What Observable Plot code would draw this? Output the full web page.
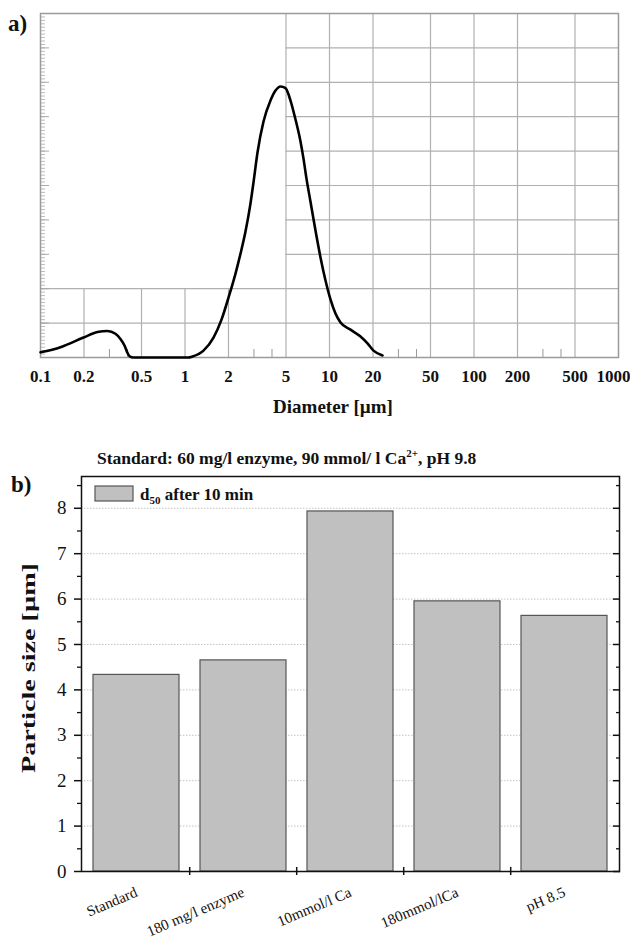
<!DOCTYPE html>
<html><head><meta charset="utf-8">
<script src="https://cdn.jsdelivr.net/npm/d3@7"></script>
<script src="https://cdn.jsdelivr.net/npm/@observablehq/plot@0.6"></script>
<style>
body{margin:0;background:#fff;}
#wrap{position:relative;width:630px;height:942px;overflow:hidden;}
#wrap svg{position:absolute;left:0;}
</style></head><body><div id="wrap"></div>
<script>
// ---------- Panel a: particle size distribution ----------
const diameter = [0.1, 0.1375, 0.1984, 0.248, 0.2907, 0.3301, 0.3574, 0.3812, 0.3983, 0.4146, 0.44, 1.05, 1.127, 1.343, 1.575, 1.789, 2.0, 2.236, 2.422, 2.622, 2.84, 2.979, 3.175, 3.494, 3.905, 4.229, 4.58, 4.961, 5.372, 5.818, 6.30, 6.607, 6.93, 7.388, 8.0, 8.664, 9.383, 10.16, 11.0, 11.92, 13.97, 16.39, 18.32, 20.16, 23.27];
const volume   = [0.15, 0.30, 0.58, 0.74, 0.77, 0.69, 0.54, 0.35, 0.15, 0.03, 0.0, 0.0, 0.03, 0.2, 0.58, 1.10, 1.74, 2.44, 3.02, 3.66, 4.48, 5.09, 5.96, 6.86, 7.47, 7.76, 7.88, 7.83, 7.47, 6.92, 6.28, 5.78, 5.2, 4.53, 3.69, 2.91, 2.24, 1.69, 1.28, 1.02, 0.81, 0.61, 0.41, 0.2, 0.06];
const diameterTicks = [0.1, 0.2, 0.5, 1, 2, 5, 10, 20, 50, 100, 200, 500];
const lastDiameterTick = [1000];
const minorDiameterTicks = [0.3, 0.4, 3, 4, 30, 40, 300, 400];
const lowGridDiameters = [0.2, 0.5, 1, 2];
const fullGridDiameters = [5, 10, 20, 50, 100, 200, 500];
const fullGridLevels = [1, 2];
const partialGridLevels = [3, 4, 5, 6, 7, 8, 9];
const gridStartDiameter = 5;
const majorLevels = [0, 1, 2, 3, 4, 5, 6, 7, 8, 9, 10];
const minorLevels = d3.range(0, 100).map(i => i / 10);

// ---------- Panel b: d50 bar chart ----------
const conditions = ["Standard", "180 mg/l enzyme", "10mmol/l Ca", "180mmol/lCa", "pH 8.5"];
const d50 = [4.33, 4.65, 7.93, 5.95, 5.63];
const sizeTicks = [0, 1, 2, 3, 4, 5, 6, 7, 8];
const sizeHalfTicks = [0.5, 1.5, 2.5, 3.5, 4.5, 5.5, 6.5, 7.5, 8.5];

const FONT = "'Liberation Serif', 'DejaVu Serif', serif";
const wrap = document.getElementById("wrap");

const curve = diameter.map((d, i) => ({d, v: volume[i]}));
const plotA = Plot.plot({
  width: 630, height: 420,
  marginLeft: 40, marginRight: 12, marginTop: 13, marginBottom: 63,
  style: {fontFamily: FONT, color: "#111", background: "transparent"},
  x: {type: "log", domain: [0.1, 1000], axis: null},
  y: {domain: [0, 10], axis: null},
  marks: [
    Plot.ruleY(fullGridLevels, {y: d => d, x1: 0.1, x2: 1000, stroke: "#b0b0b0", strokeWidth: 1.2}),
    Plot.ruleY(partialGridLevels, {y: d => d, x1: gridStartDiameter, x2: 1000, stroke: "#b0b0b0", strokeWidth: 1.2}),
    Plot.ruleX(lowGridDiameters, {x: d => d, y1: 0, y2: 2, stroke: "#b0b0b0", strokeWidth: 1.2}),
    Plot.ruleX(fullGridDiameters, {x: d => d, y1: 0, y2: 10, stroke: "#b0b0b0", strokeWidth: 1.2}),
    Plot.ruleY(minorLevels, {y: d => d, x1: 0.1, x2: 0.1, insetRight: -5, stroke: "#aaa", strokeWidth: 0.8}),
    Plot.ruleY(majorLevels, {y: d => d, x1: 0.1, x2: 0.1, insetRight: -9, stroke: "#aaa", strokeWidth: 1}),
    Plot.ruleX(minorDiameterTicks, {x: d => d, y1: 0, y2: 0, insetTop: -8, stroke: "#999", strokeWidth: 1}),
    Plot.frame({stroke: "#9a9a9a", strokeWidth: 1.5}),
    Plot.line(curve, {x: "d", y: "v", curve: "monotone-x", stroke: "#000", strokeWidth: 2.6}),
    Plot.text(diameterTicks, {x: d => d, frameAnchor: "bottom", dy: 12, lineAnchor: "top", text: d => String(d), fontSize: 17, fontWeight: "bold", fill: "#111"}),
    Plot.text(lastDiameterTick, {x: d => d, frameAnchor: "bottom", dy: 12, dx: 12, lineAnchor: "top", textAnchor: "end", text: d => String(d), fontSize: 17, fontWeight: "bold", fill: "#111"})
  ]
});
plotA.style.top = "0px";
wrap.appendChild(plotA);

const bars = conditions.map((c, i) => ({c, v: d50[i]}));
const W = 630, mlB = 81, mrB = 11, padIn = 0.2, padOut = 0.1;
const stepB = (W - mlB - mrB) / (conditions.length - padIn + 2 * padOut);
const plotB = Plot.plot({
  width: W, height: 502,
  marginLeft: mlB, marginRight: mrB, marginTop: 36, marginBottom: 71,
  style: {fontFamily: FONT, color: "#111", background: "transparent"},
  x: {type: "band", domain: conditions, paddingInner: padIn, paddingOuter: padOut},
  y: {domain: [0, 8.7]},
  marks: [
    Plot.ruleY(sizeTicks.slice(1), {y: d => d, stroke: "#c4c4c4", strokeWidth: 1, strokeDasharray: "1.5,1.5"}),
    Plot.barY(bars, {x: "c", y: "v", fill: "#c0c0c0", stroke: "#555", strokeWidth: 1.2}),
    Plot.frame({stroke: "#111", strokeWidth: 1.5}),
    Plot.axisY({ticks: sizeTicks, tickSize: 7, tickPadding: 8, fontSize: 19, tickFormat: d => String(d), label: null, strokeWidth: 1.5}),
    Plot.axisY({ticks: sizeHalfTicks, tickSize: 4, tickFormat: () => "", label: null, strokeWidth: 1.3}),
    Plot.axisY({anchor: "right", ticks: sizeTicks, tickSize: -7, tickFormat: () => "", label: null, strokeWidth: 1.5}),
    Plot.axisY({anchor: "right", ticks: sizeHalfTicks, tickSize: -4, tickFormat: () => "", label: null, strokeWidth: 1.3}),
    Plot.axisX({tickSize: 0, tickPadding: 20, tickRotate: -23, fontSize: 15, label: null}),
    Plot.ruleX(conditions.slice(1), {x: d => d, y1: 0, y2: 0, insetTop: -4, insetBottom: -4, dx: -stepB / 2, stroke: "#111", strokeWidth: 1.5})
  ]
});
plotB.style.top = "440px";
wrap.appendChild(plotB);

// ---------- Overlay texts: panel tags, axis titles, subtitle, legend ----------
const ov = d3.select(wrap).append("svg")
  .attr("width", 630).attr("height", 942)
  .style("top", "0px").style("pointer-events", "none")
  .style("font-family", FONT).attr("fill", "#111");

ov.append("text").attr("x", 8).attr("y", 31).attr("font-size", 23).attr("font-weight", "bold").text("a)");
ov.append("text").attr("x", 333).attr("y", 413).attr("text-anchor", "middle").attr("font-size", 19).attr("font-weight", "bold").text("Diameter [µm]");

const title = ov.append("text").attr("x", 97).attr("y", 464).attr("font-size", 17.5).attr("font-weight", "bold");
title.append("tspan").text("Standard: 60 mg/l enzyme, 90 mmol/ l Ca");
title.append("tspan").attr("dy", -7).attr("font-size", 11).text("2+");
title.append("tspan").attr("dy", 7).text(", pH 9.8");

ov.append("text").attr("x", 11).attr("y", 492).attr("font-size", 23).attr("font-weight", "bold").text("b)");

ov.append("rect").attr("x", 95).attr("y", 486).attr("width", 38).attr("height", 15)
  .attr("fill", "#c0c0c0").attr("stroke", "#555").attr("stroke-width", 1.2);
const leg = ov.append("text").attr("x", 140).attr("y", 500).attr("font-size", 17).attr("font-weight", "bold");
leg.append("tspan").text("d");
leg.append("tspan").attr("dy", 4).attr("font-size", 11).text("50");
leg.append("tspan").attr("dy", -4).text(" after 10 min");

ov.append("text").attr("transform", "translate(35,668) rotate(-90)")
  .attr("text-anchor", "middle").attr("font-size", 19).attr("font-weight", "bold")
  .attr("textLength", 210).attr("lengthAdjust", "spacingAndGlyphs").text("Particle size [µm]");
</script>
</body></html>
